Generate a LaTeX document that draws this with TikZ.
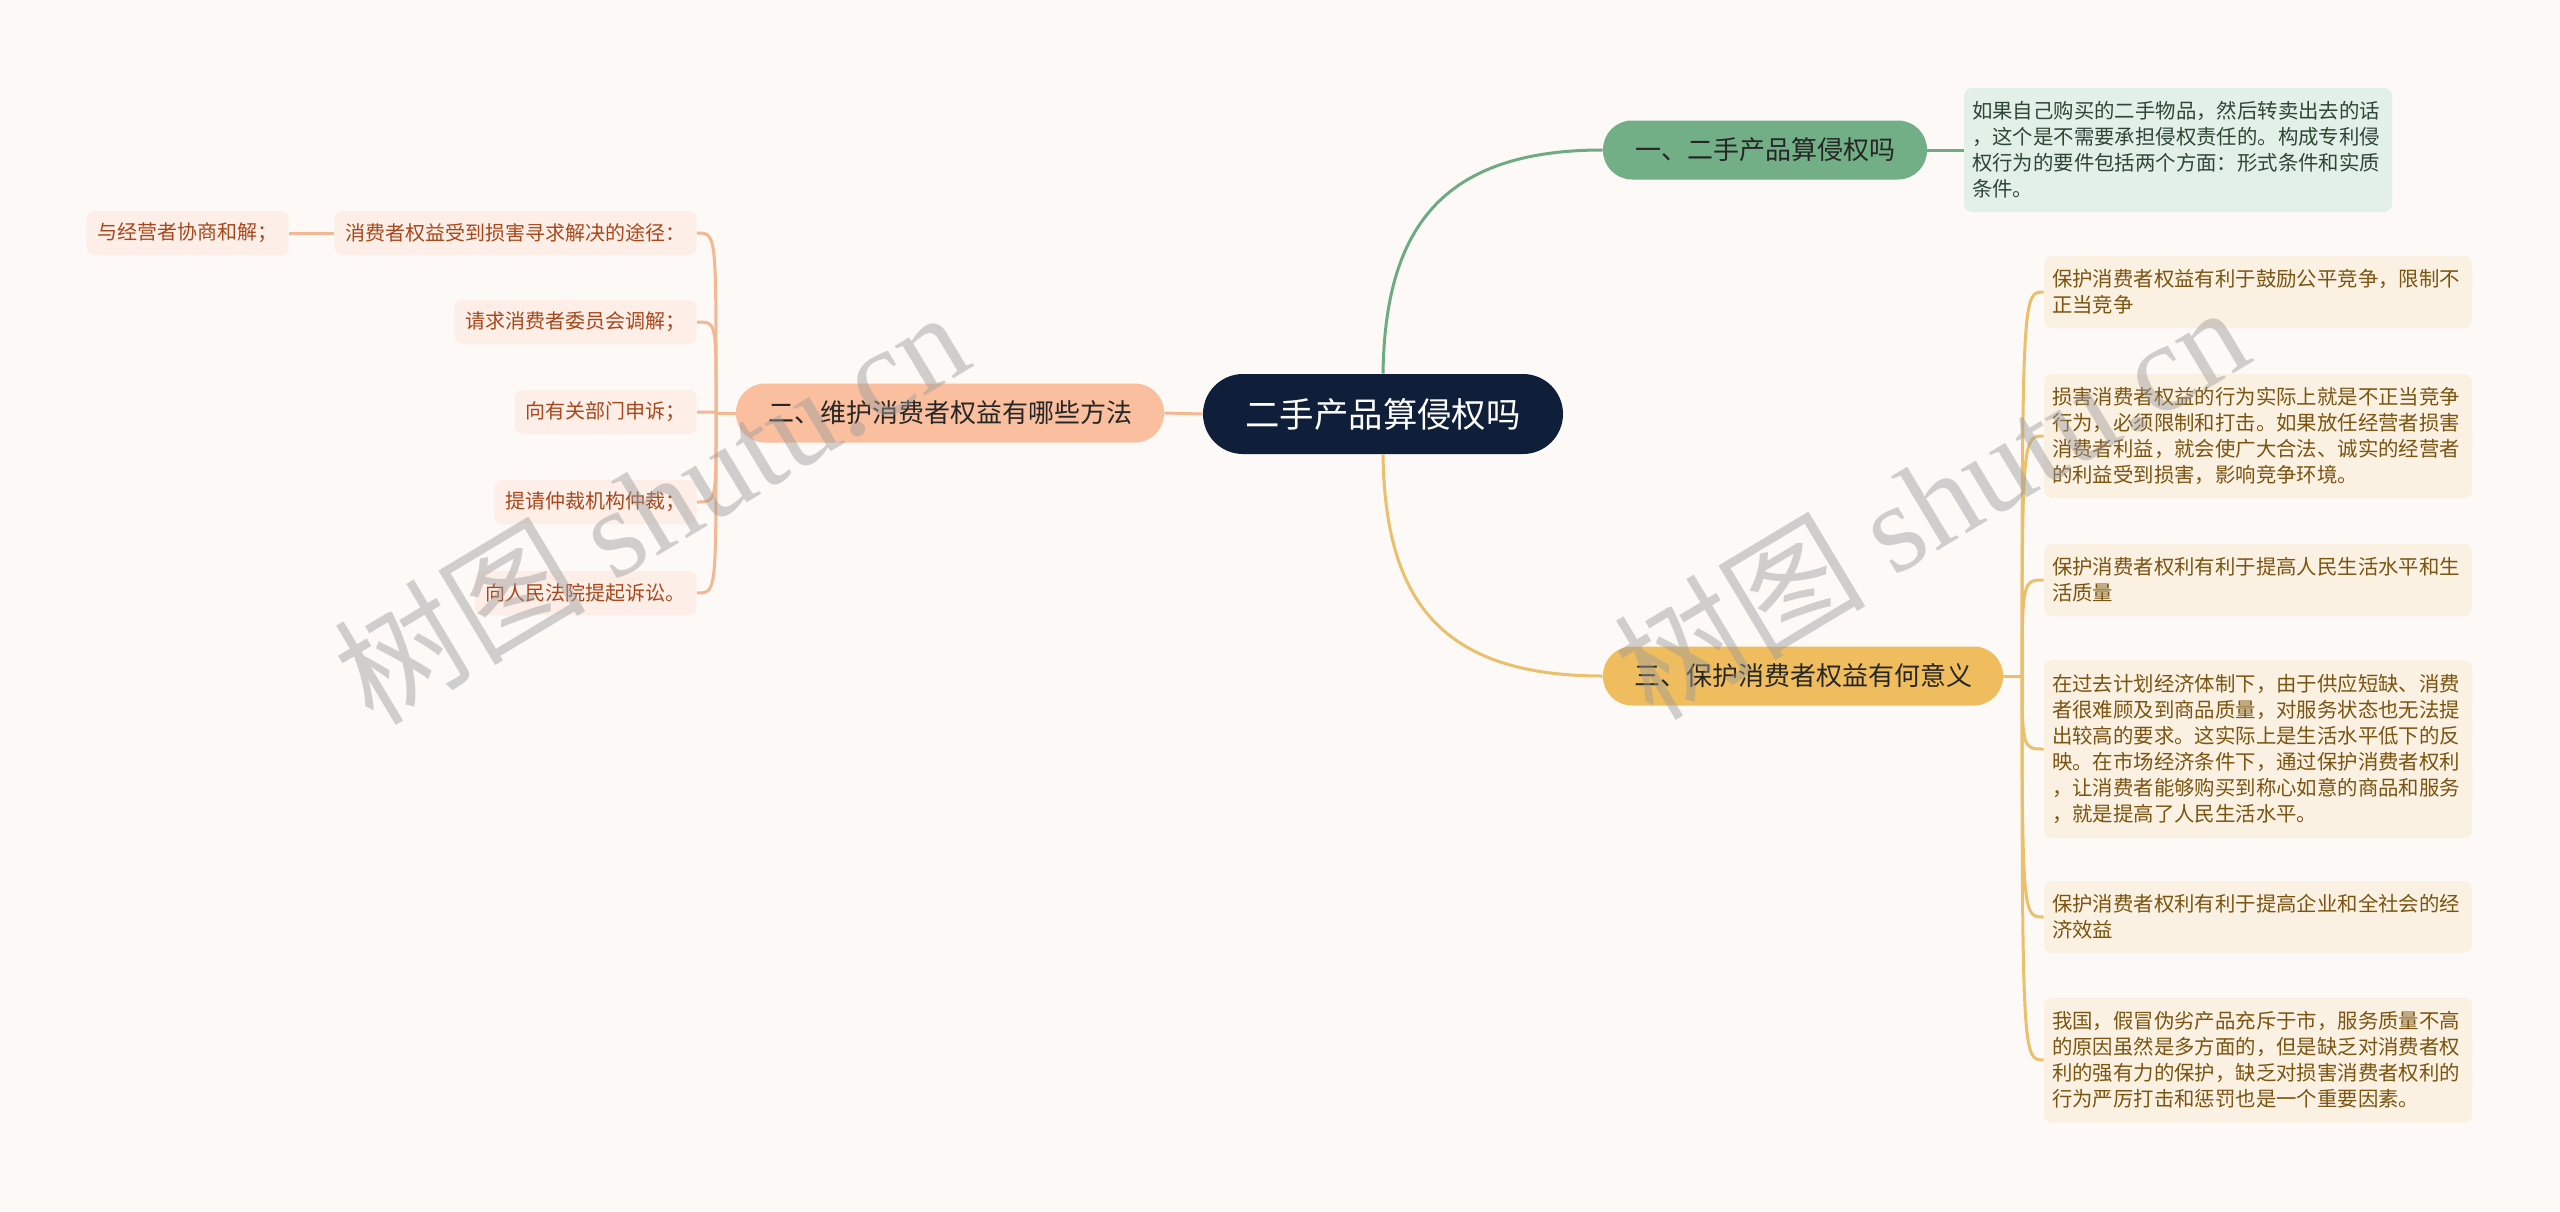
\documentclass[tikz,border=0pt]{standalone}
\usepackage{fontspec}
\setmainfont{Noto Sans CJK SC}
\newfontfamily\wmlatin{Liberation Serif}
\definecolor{bgc}{HTML}{FDF9F7}
\definecolor{navy}{HTML}{0F1F3A}
\definecolor{gnode}{HTML}{72AF86}
\definecolor{gline}{HTML}{6FAB82}
\definecolor{gbox}{HTML}{E3F0E7}
\definecolor{gtext}{HTML}{2F4537}
\definecolor{snode}{HTML}{FABF9E}
\definecolor{sline}{HTML}{F3B792}
\definecolor{sbox}{HTML}{FDEFE7}
\definecolor{stext}{HTML}{A9461A}
\definecolor{ynode}{HTML}{EFBD5E}
\definecolor{yline}{HTML}{EBC06C}
\definecolor{ybox}{HTML}{FBF1E2}
\definecolor{ytext}{HTML}{7A5410}
\definecolor{wm}{HTML}{9A9A9A}
\tikzset{
  rootnode/.style={fill=navy, text=white, rounded corners=20pt, minimum width=180pt, minimum height=40pt, inner sep=0pt, font=\fontsize{17.2}{20}\selectfont},
  topic/.style={rounded corners=14.5pt, minimum height=29.5pt, inner sep=0pt, text=black!85, font=\fontsize{13}{16}\selectfont},
  bigleaf/.style={rounded corners=4pt, minimum width=214pt, inner xsep=4pt, inner ysep=0pt, text width=206pt, align=left, font=\fontsize{10.2}{13}\selectfont},
  smallleaf/.style={fill=sbox, text=stext, rounded corners=4pt, minimum height=22pt, inner xsep=5.5pt, inner ysep=0pt, font=\fontsize{10}{13}\selectfont},
  conn/.style={line width=1.5pt},
  wmark/.style={text=wm, opacity=0.45, rotate=31, font=\fontsize{63}{70}\selectfont}
}
\begin{document}
\begin{tikzpicture}[x=0.5pt,y=-0.5pt]
\fill[bgc] (0,0) rectangle (2560,1211);
\useasboundingbox (0,0) rectangle (2560,1211);

% root
\node[rootnode] (root) at (1383,414) {二手产品算侵权吗};

% topics
\node[topic, fill=gnode, minimum width=162pt] (g) at (1765,150) {一、二手产品算侵权吗};
\node[topic, fill=ynode, minimum width=200pt] (y) at (1803,676) {三、保护消费者权益有何意义};
\node[topic, fill=snode, minimum width=214pt] (s) at (950,413) {二、维护消费者权益有哪些方法};

% green text
\node[bigleaf, fill=gbox, text=gtext, minimum height=62pt] (g1) at (2178,150) {如果自己购买的二手物品，然后转卖出去的话\\，这个是不需要承担侵权责任的。构成专利侵\\权行为的要件包括两个方面：形式条件和实质\\条件。};

% yellow leaves
\node[bigleaf, fill=ybox, text=ytext, minimum height=36pt] (y1) at (2258,292) {保护消费者权益有利于鼓励公平竞争，限制不\\正当竞争};
\node[bigleaf, fill=ybox, text=ytext, minimum height=62pt] (y2) at (2258,436) {损害消费者权益的行为实际上就是不正当竞争\\行为，必须限制和打击。如果放任经营者损害\\消费者利益，就会使广大合法、诚实的经营者\\的利益受到损害，影响竞争环境。};
\node[bigleaf, fill=ybox, text=ytext, minimum height=36pt] (y3) at (2258,580) {保护消费者权利有利于提高人民生活水平和生\\活质量};
\node[bigleaf, fill=ybox, text=ytext, minimum height=89pt] (y4) at (2258,749) {在过去计划经济体制下，由于供应短缺、消费\\者很难顾及到商品质量，对服务状态也无法提\\出较高的要求。这实际上是生活水平低下的反\\映。在市场经济条件下，通过保护消费者权利\\，让消费者能够购买到称心如意的商品和服务\\，就是提高了人民生活水平。};
\node[bigleaf, fill=ybox, text=ytext, minimum height=36pt] (y5) at (2258,917) {保护消费者权利有利于提高企业和全社会的经\\济效益};
\node[bigleaf, fill=ybox, text=ytext, minimum height=62.5pt] (y6) at (2258,1060) {我国，假冒伪劣产品充斥于市，服务质量不高\\的原因虽然是多方面的，但是缺乏对消费者权\\利的强有力的保护，缺乏对损害消费者权利的\\行为严厉打击和惩罚也是一个重要因素。};

% salmon leaves
\node[smallleaf, anchor=east] (a1) at (697,233) {消费者权益受到损害寻求解决的途径：};
\node[smallleaf, anchor=east] (a0) at (289,233) {与经营者协商和解；};
\node[smallleaf, anchor=east] (a2) at (697,322) {请求消费者委员会调解；};
\node[smallleaf, anchor=east] (a3) at (697,412) {向有关部门申诉；};
\node[smallleaf, anchor=east] (a4) at (697,502) {提请仲裁机构仲裁；};
\node[smallleaf, anchor=east] (a5) at (697,593) {向人民法院提起诉讼。};

% connectors
\draw[conn, gline] (root.north) .. controls (1385,230) and (1440,150) .. (g.west);
\draw[conn, yline] (root.south) .. controls (1385,600) and (1440,676) .. (y.west);
\draw[conn, sline] (root.west) -- (s.east);
\draw[conn, gline] (g.east) -- (g1.west);

\coordinate (yt) at (2022,676);
\draw[conn, yline] (y.east) -- (yt);
\foreach \n in {y1,y2,y3,y4,y5,y6}{
  \draw[conn, yline] (yt) .. controls (yt |- \n.west) and ([xshift=-10]\n.west) .. (\n.west);
}
\coordinate (st) at (716,413);
\draw[conn, sline] (s.west) -- (st);
\foreach \n in {a1,a2,a3,a4,a5}{
  \draw[conn, sline] (st) .. controls (st |- \n.east) and ([xshift=10]\n.east) .. (\n.east);
}
\draw[conn, sline] (a1.west) -- (a0.east);

% watermarks
\node[wmark] (wm1) at (650,505) {树图 {\wmlatin shutu.cn}};
\node[wmark] (wm2) at (1930,500) {树图 {\wmlatin shutu.cn}};
\end{tikzpicture}
\end{document}
